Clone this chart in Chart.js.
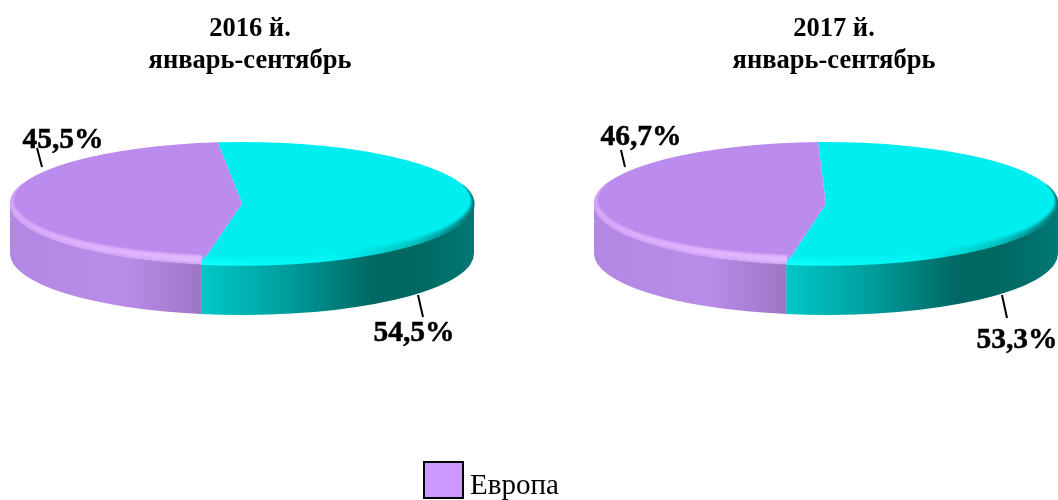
<!DOCTYPE html>
<html>
<head>
<meta charset="utf-8">
<script src="https://cdn.jsdelivr.net/npm/chart.js@4/dist/chart.umd.js"></script>
<style>
html, body { margin: 0; padding: 0; background: #fff; overflow: hidden; width: 1058px; height: 500px; }
.pie { position: absolute; top: 0; width: 500px; height: 500px; }
#legend { position: absolute; left: 423px; top: 461px; font: 29px "Liberation Serif", serif; color: #000; white-space: nowrap; }
#legend i { position: absolute; left: 0; top: 0; width: 37px; height: 34px; background: #cc99ff; border: 2px solid #000; }
#legend span { position: absolute; left: 47px; top: 7px; }
</style>
</head>
<body>
<div class="pie" style="left:0"><canvas id="pie-2016" width="500" height="500"></canvas></div>
<div class="pie" style="left:584px"><canvas id="pie-2017" width="500" height="500"></canvas></div>
<div id="legend"><i></i><span>Европа</span></div>
<script>
const categories = ['Другие', 'Европа'];
const values2016 = [54.5, 45.5];
const values2017 = [53.3, 46.7];
const titles2016 = ['2016 й.', 'январь-сентябрь'];
const titles2017 = ['2017 й.', 'январь-сентябрь'];

const TOP_COLORS = ['#00eef0', '#bb8cee'];
const WALL_STOPS = [
    [[0.415, '#00c8c8'], [0.6, '#009c9c'], [0.78, '#006862'], [0.88, '#006862'], [1, '#007874']],
    [[0, '#b388e4'], [0.25, '#b88ce8'], [0.415, '#9e74c4']]
];
const RIM_STOPS = [
    [[0.415, '#10ffff'], [0.7, '#00f4f4'], [0.88, '#00b8b8'], [1, '#006c68']],
    [[0, '#d8a8fa'], [0.2, '#e2b6ff'], [0.415, '#e8c0ff']]
];

// ==================== TILTED 3D LOOK ====================
const RY = 61.5, DEPTH = 50;

function sideGradient(ctx, cx, rx, stops) {
    const g = ctx.createLinearGradient(cx - rx, 0, cx + rx, 0);
    stops.forEach(s => g.addColorStop(s[0], s[1]));
    return g;
}

const tiltPlugin = {
    id: 'tilt',
    beforeDatasetsDraw(chart, args, opts) {
        const ctx = chart.ctx;
        const arcs = chart.getDatasetMeta(0).data;
        const a0 = arcs[0];
        const cx = opts.cx, cy = opts.cy, rx = a0.outerRadius;

        // side wall, only the front half of each slice
        arcs.forEach((arc, i) => {
            const from = Math.max(arc.startAngle, 0);
            const to = Math.min(arc.endAngle, Math.PI);
            if (to <= from) return;
            ctx.beginPath();
            ctx.ellipse(cx, cy, rx, RY, 0, from, to);
            ctx.ellipse(cx, cy + DEPTH, rx, RY, 0, to, from, true);
            ctx.closePath();
            ctx.fillStyle = sideGradient(ctx, cx, rx, WALL_STOPS[i]);
            ctx.fill();
        });

        ctx.save();
        ctx.translate(cx, cy);
        ctx.scale(1, RY / rx);
        ctx.translate(-a0.x, -a0.y);
    },
    afterDatasetsDraw(chart, args, opts) {
        const ctx = chart.ctx;
        ctx.restore();
        const arcs = chart.getDatasetMeta(0).data;
        const cx = opts.cx, cy = opts.cy, rx = arcs[0].outerRadius;
        const LIMIT = 20 * Math.PI / 180;
        const TAPER = 32 * Math.PI / 180;
        const STEP = 0.015;

        // soft bevel along the front rim, fades out towards both ends
        arcs.forEach((arc, i) => {
            const from = Math.max(arc.startAngle, -LIMIT);
            const to = Math.min(arc.endAngle, Math.PI + LIMIT);
            if (to <= from) return;
            ctx.strokeStyle = sideGradient(ctx, cx, rx, RIM_STOPS[i]);
            ctx.lineWidth = 1.5;
            for (let t = 1; t >= 0; t -= 0.1) {
                const k = 1 - t;
                const alpha = i === 0 ? Math.pow(k, 1.2) : 0.85 * Math.sin(Math.PI * Math.pow(k, 0.9) * 0.9);
                for (let a = from; a < to; a += STEP) {
                    const b = Math.min(a + STEP, to);
                    const point = ang => {
                        const edge = Math.min(ang + LIMIT, Math.PI + LIMIT - ang);
                        const g = Math.min(1, edge / TAPER);
                        return [cx + (rx - 7 * t * g) * Math.cos(ang), cy + (RY - 10 * t * g) * Math.sin(ang), g];
                    };
                    const p = point(a), q = point(b);
                    ctx.globalAlpha = Math.max(0, alpha * p[2]);
                    ctx.beginPath();
                    ctx.moveTo(p[0], p[1]);
                    ctx.lineTo(q[0], q[1]);
                    ctx.stroke();
                }
            }
            ctx.globalAlpha = 1;
        });

        // value labels and their leader lines
        const values = chart.data.datasets[0].data;
        ctx.strokeStyle = '#000';
        ctx.fillStyle = '#000';
        ctx.font = 'bold 29.5px "Liberation Serif", serif';
        ctx.textAlign = 'center';
        ctx.textBaseline = 'middle';
        opts.labels.forEach((l, i) => {
            const text = values[i].toFixed(1).replace('.', ',') + '%';
            ctx.lineWidth = 2;
            ctx.beginPath();
            ctx.moveTo(l.line[0], l.line[1]);
            ctx.lineTo(l.line[2], l.line[3]);
            ctx.stroke();
            ctx.fillText(text, l.x, l.y);
            ctx.lineWidth = 0.5;
            ctx.strokeText(text, l.x, l.y);
        });
    }
};

// ==================== CHARTS ====================
function drawPie(id, values, title, opts) {
    const ctx = document.getElementById(id).getContext('2d');
    return new Chart(ctx, {
        type: 'pie',
        data: {
            labels: categories,
            datasets: [{ data: values, backgroundColor: TOP_COLORS, borderWidth: 0, clip: false }]
        },
        options: {
            responsive: false,
            animation: false,
            rotation: opts.rotation,
            radius: 232,
            events: [],
            plugins: {
                legend: { display: false },
                tooltip: { enabled: false },
                title: {
                    display: true,
                    text: title,
                    color: '#000',
                    font: { family: '"Liberation Serif", serif', size: 26.5, weight: 'bold', lineHeight: 1.21 },
                    padding: { top: 13, bottom: 10 }
                },
                tilt: opts
            }
        },
        plugins: [tiltPlugin]
    });
}

drawPie('pie-2016', values2016, titles2016, {
    rotation: -6, cx: 242, cy: 203.5,
    labels: [
        { x: 414, y: 333, line: [418, 295, 423, 317] },
        { x: 63, y: 140, line: [37, 148, 42, 167] }
    ]
});

drawPie('pie-2017', values2017, titles2017, {
    rotation: -2, cx: 242, cy: 203.5,
    labels: [
        { x: 433, y: 340, line: [418, 295, 423, 318] },
        { x: 57, y: 137, line: [37, 150, 41, 167] }
    ]
});
</script>
</body>
</html>
